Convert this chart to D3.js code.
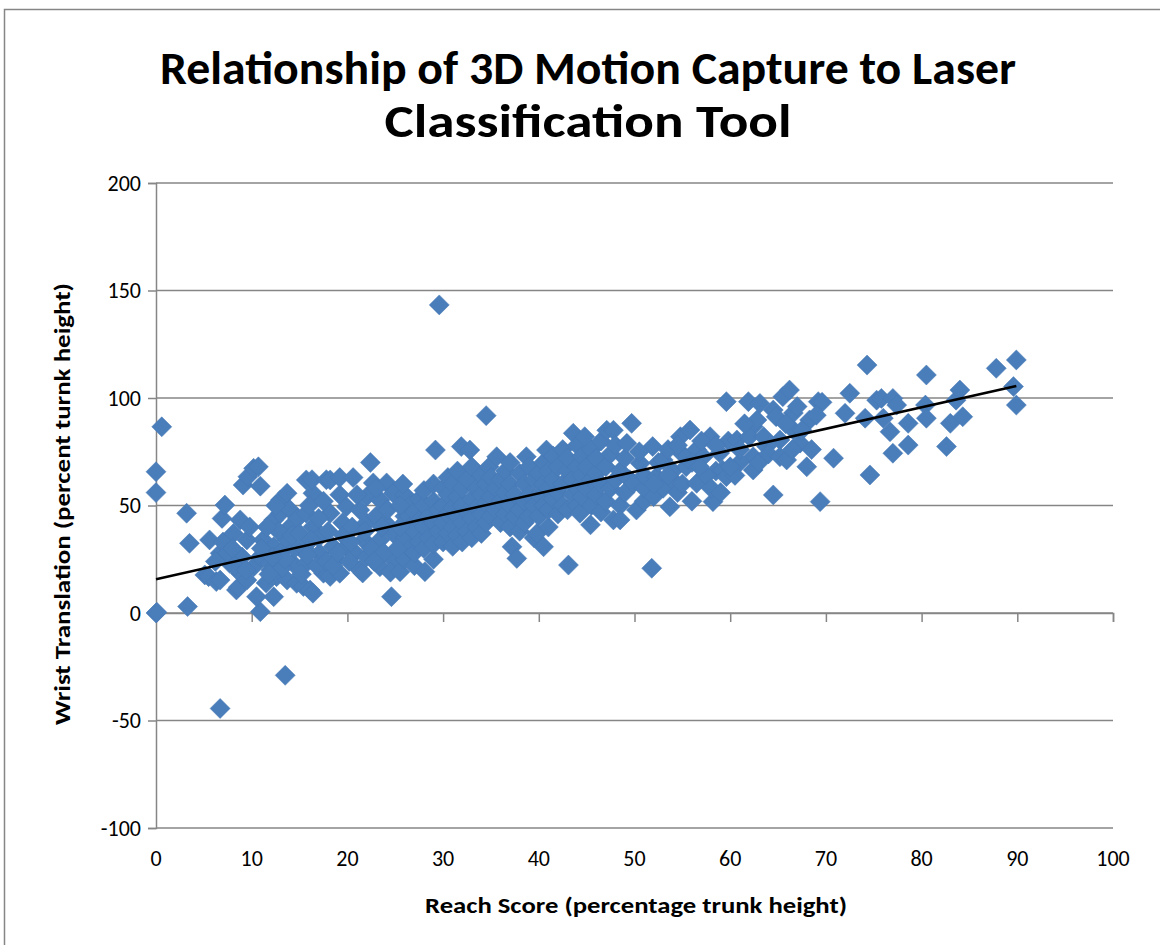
<!DOCTYPE html>
<html>
<head>
<meta charset="utf-8">
<script src="https://cdn.jsdelivr.net/npm/d3@7"></script>
<style>
  html, body { margin: 0; padding: 0; background: #fff; }
  svg { display: block; }
  text { font-family: Carlito, Calibri, "Liberation Sans Narrow", "Open Sans", sans-serif; fill: #000; }
</style>
</head>
<body>
<svg id="chart" width="1160" height="945"></svg>
<script>
// values, [reach score, wrist translation]
var edgePoints = [
  [0,0],[0.1,0.3],[0,56],[0,65.7],[0.6,86.6],[3.3,3],[3.2,46.4],[3.5,32.4],
  [6.7,-44.4],[13.5,-29],[10.9,0.6],[29.6,143.3],[34.5,91.8],[43.1,22.3],[51.8,20.8]
];

var lowReach = [
  [5.1,17.7],[5.5,16.9],[5.6,34],[6.3,14.6],[6.7,15.3],[6.7,27.8],[6.9,44],[7.2,50.2],
  [7.0,33],[7.7,23.1],[8.1,37],[8.4,10.7],[8.6,12],[8.8,18.5],[8.8,43.3],[9.5,15.3],
  [9.5,34],[9.1,59.5],[9.6,63.4],[10.2,67.3],[10.7,68],[10.9,59],[10.2,21.5],[10.5,7.6],
  [7.5,28],[9,26],[8,30],[6.2,24],[9.8,40],[8.2,22],[9.4,20],
  [10.9,26.2],[11.2,34],[11.9,23.1],[12.3,7.6],[12.3,30.8],[12.3,43.3],[12.6,16.9],
  [13,46.4],[13,52.6],[13.7,15.3],[13.7,34],[13.7,55.7],[14,40.1],[14.3,23.1],[14.7,13.8],
  [11.5,14],[12,20],[13,28],[14,48],[14.5,30],[11,30],[12.8,38],[13.2,21],[14.8,44],
  [12.5,50],[11.6,40],[11.8,18],[13.5,25],[14.2,36],[12.2,26],
  [15,37],[15.4,12.3],[15.7,23.1],[15.7,46.4],[15.7,61.9],[16.1,10.7],[16.4,9.2],
  [16.4,40.1],[16.4,55.7],[16.3,62],[17.1,27.8],[17.5,18.5],[17.8,62],[18.2,17],
  [18.2,46.4],[18.2,61.9],[18.5,30.8],[19.2,18.5],[19.2,55],[19.2,63],[19.9,30.8],
  [19.9,49.4],[15.5,30],[16,50],[17,35],[17,44],[17.5,52],[18,38],[18.8,25],[19.5,42],
  [19.6,36],[15.2,18],[16.8,22],[17.8,24],[16.2,34],[18.5,22],[19,28],[15.8,27]
];

var midReach = [
  [20.6,63],[21.3,20],[21.3,47.9],[21.6,18.6],[21.7,34],[22,54.1],[22.4,70],[22.7,60.5],
  [23.4,21.5],[23.4,34],[23.4,52.6],[24.1,60.5],[24.6,7.6],[24.8,24.7],[24.8,37],
  [24.8,55.7],[20.5,40],[20.8,28],[21,55],[22,26],[22,42],[22.5,30],[23,45],[23.8,28],
  [24,42],[24.2,48],[20.2,24],[21.8,38],[23,58],[24.5,19],[20.3,33],[22.8,24],[23.6,40],
  [25.5,19.2],[26,25],[26,35],[26,45],[26,55],[26.5,30],[26.5,40],[26.5,50],[27,22],
  [27,28],[27,38],[27,47],[27.5,33],[27.5,43],[27.5,53],[28.1,19.2],[28,30],[28,40],
  [28,50],[28,57],[28.5,35],[28.5,45],[29,25],[29,32],[29,42],[29,52],[29,60],
  [29.2,75.8],[29.5,38],[29.5,48],[25.5,40],[25.5,50],[25.2,30],[25.8,60],
  [30,33],[30,42],[30,50],[30,58],[30.5,37],[30.5,46],[30.5,55],[30.5,63],[31,31],
  [31,40],[31,49],[31,60],[31.5,36],[31.5,45],[31.5,54],[31.5,66],[31.9,77.4],[32,33],
  [32,42],[32,50],[32,58],[32.5,38],[32.5,47],[32.5,62],[32.8,75.8],[33,35],[33,44],
  [33,53],[33,68],[33.5,40],[33.5,49],[33.5,58],[34,37],[34,46],[34,55],[34,64],
  [34.5,42],[34.5,51],[34.5,60],[34.8,68],
  [35,45],[35,54],[35,63],[35.5,48],[35.5,58],[35.6,72.7],[36,42],[36,52],[36,62],
  [36.5,46],[36.5,56],[36.5,66],[37.2,30.8],[37.7,25.4],[37,40],[37,50],[37,60],[37,70],
  [37.5,45],[37.5,55],[38,38],[38,48],[38,65],[38.5,42],[38.5,52],[38.5,60],[38.7,72.7],
  [39,45],[39,55],[39,68],[39.5,35],[39.5,50],[39.8,37],[39.5,62]
];

var upperReach = [
  [40,45],[40,55],[40,65],[40.5,30.8],[40.5,50],[40.5,60],[40.5,70],[40.8,75.8],[41,40],
  [41,48],[41,58],[41,66],[41.5,53],[41.5,62],[41.5,73],[42,46],[42,56],[42,68],[42.5,50],
  [42.5,60],[42.5,76],[43,48],[43,66],[43,72],[43.5,55],[43.5,62],[43.6,83.6],[44,50],
  [44,58],[44,68],[44,78],[44.3,46.4],[44.5,54],[44.5,64],[44.5,73],[44.8,82],
  [45,58],[45,68],[45.4,41],[45.5,50],[45.5,62],[45.5,76],[46,55],[46,65],[46,72],
  [46.5,47],[46.5,60],[46.5,80],[47,52],[47,68],[47.1,85],[47.5,58],[47.5,74],[47.8,43.3],
  [47.8,85],[48,62],[48,78],[48.5,50],[48.5,66],[48.5,43.3],[49,56],[49,72],[49.2,78.9],
  [49.5,62],[49.7,88.2],[49.9,60.3],[50.2,47.9],
  [50.6,69.6],[51,52],[51,58],[51,64],[51.9,77.4],[52,54.1],[52.3,63.4],[52.5,70],
  [53,71.2],[53,58],[53.7,49.4],[54,61.9],[54,66],[54.5,56],[54.8,82],[55,74],[55.4,68],
  [55.8,85.1],[53.5,76],[50.5,75],[52,60],[53.5,64],[55,60],[54.5,78],
  [56.5,60.3],[56,52],[56.5,76],[57.2,72.7],[57.9,82],[58.2,51.8],[58.5,66],[58.9,74.4],
  [59.2,66.5],[59.6,63.4],[59.6,98.3],[59.8,80],[57.5,64],[56,70],[58,58],[59,56],
  [57,80],[58.5,78],[56.8,68]
];

var highReach = [
  [60.7,80.5],[61.9,98.3],[62.4,72.7],[62.4,66.5],[62.4,86.7],[62.8,89.8],[63.1,97.5],
  [63.8,77.4],[64.5,94.4],[64.5,54.9],[64.8,91.3],[61,70],[61,76],[60.5,64],[62,82],
  [63,70],[63.5,82],[64,74],[60,68],[61.5,88],
  [65.2,80.5],[65.2,72.7],[65.5,100.6],[65.9,71.2],[66.2,103.7],[66.6,85.1],[66.6,93],
  [67,96],[67.3,79],[68,68],[68.3,89.8],[69.2,98.3],[69.4,51.8],[69.6,98],[65.8,88],
  [66.5,76],[67.5,85],[68.5,76],[69,92],
  [70.8,72],[72,92.9],[72.5,102.2],[74.1,90.6],[74.3,115.3],[74.6,64.2],[75.3,99],
  [75.8,99.8],[76,90.6],[76.7,84.3],[77,74.3],[77,99.8],[77.4,96.7],[78.6,88.2],[78.6,78.1],
  [80.4,96.7],[80.5,110.7],[80.5,90.6],[82.6,77.4],[83,88.2],[83.6,99],[84,103.7],
  [84.3,91.3],[87.8,113.8],[89.6,105.3],[89.9,117.7],[89.9,96.7]
];

// linear trendline end points as drawn
var trendLine = [[0,15.7],[89.9,105.6]];

var xTicks = [0,10,20,30,40,50,60,70,80,90,100];
var yTicks = [-100,-50,0,50,100,150,200];

var titleLines = ["Relationship of 3D Motion Capture to Laser", "Classification Tool"];
var xTitle = "Reach Score (percentage trunk height)";
var yTitle = "Wrist Translation (percent turnk height)";

var gridColor = "#868686";
var markerColor = "#4a7ebb";

var svg = d3.select("#chart");

// chart frame (runs off the right and bottom edge)
svg.append("rect")
  .attr("x", 4.5).attr("y", 9.5)
  .attr("width", 1300).attr("height", 1100)
  .attr("fill", "#fff")
  .attr("stroke", gridColor)
  .attr("stroke-width", 1.5);

var x = d3.scaleLinear().domain([0, 100]).range([156, 1113]);
var y = d3.scaleLinear().domain([-100, 200]).range([828, 183]);

// title
svg.selectAll(".title")
  .data(titleLines)
  .enter().append("text")
  .attr("class", "title")
  .attr("x", 588)
  .attr("y", (d, i) => 84 + i * 53)
  .attr("text-anchor", "middle")
  .attr("font-size", 47)
  .attr("font-weight", "bold")
  .attr("textLength", (d, i) => i === 0 ? 856 : 407)
  .attr("lengthAdjust", "spacingAndGlyphs")
  .text(d => d);

// horizontal gridlines
svg.append("g")
  .selectAll("line")
  .data(yTicks)
  .enter().append("line")
  .attr("x1", x(0)).attr("x2", x(100))
  .attr("y1", d => y(d)).attr("y2", d => y(d))
  .attr("stroke", gridColor)
  .attr("stroke-width", 1.5);

// y axis at x = 0
var yAxis = d3.axisLeft(y).tickValues(yTicks).tickSize(8).tickPadding(7)
  .tickFormat(d => String(d));
svg.append("g")
  .attr("transform", "translate(" + x(0) + ",0)")
  .call(yAxis)
  .call(g => g.select(".domain").attr("stroke", gridColor).attr("stroke-width", 1.5))
  .call(g => g.selectAll(".tick line").attr("stroke", gridColor).attr("stroke-width", 1.5))
  .call(g => g.selectAll(".tick text")
    .attr("font-size", 22)
    .attr("font-family", null)
    .attr("fill", "#000"));

// x axis crosses at y = 0, labels sit below the plot
var xAxis = d3.axisBottom(x).tickValues(xTicks).tickSize(9).tickFormat("");
svg.append("g")
  .attr("transform", "translate(0," + y(0) + ")")
  .call(xAxis)
  .call(g => g.select(".domain").attr("stroke", gridColor).attr("stroke-width", 1.5))
  .call(g => g.selectAll(".tick line").attr("stroke", gridColor).attr("stroke-width", 1.5));

svg.append("g")
  .selectAll("text")
  .data(xTicks)
  .enter().append("text")
  .attr("x", d => x(d))
  .attr("y", 866)
  .attr("text-anchor", "middle")
  .attr("font-size", 22)
  .text(d => d);

// axis titles
svg.append("text")
  .attr("x", 636).attr("y", 913)
  .attr("text-anchor", "middle")
  .attr("font-size", 22)
  .attr("font-weight", "bold")
  .attr("textLength", 422)
  .attr("lengthAdjust", "spacingAndGlyphs")
  .text(xTitle);

svg.append("text")
  .attr("transform", "translate(70,504) rotate(-90)")
  .attr("text-anchor", "middle")
  .attr("font-size", 22)
  .attr("font-weight", "bold")
  .attr("textLength", 442)
  .attr("lengthAdjust", "spacingAndGlyphs")
  .text(yTitle);

// markers
var allPoints = edgePoints.concat(lowReach, midReach, upperReach, highReach);
var r = 10;
var diamond = "M0," + (-r) + "L" + r + ",0L0," + r + "L" + (-r) + ",0Z";

svg.append("g")
  .selectAll("path")
  .data(allPoints)
  .enter().append("path")
  .attr("d", diamond)
  .attr("transform", d => "translate(" + x(d[0]) + "," + y(d[1]) + ")")
  .attr("fill", markerColor)
  .attr("stroke", "#4577b3")
  .attr("stroke-width", 0.5);

// trendline
svg.append("line")
  .attr("x1", x(trendLine[0][0])).attr("y1", y(trendLine[0][1]))
  .attr("x2", x(trendLine[1][0])).attr("y2", y(trendLine[1][1]))
  .attr("stroke", "#000")
  .attr("stroke-width", 2.5);
</script>
</body>
</html>
